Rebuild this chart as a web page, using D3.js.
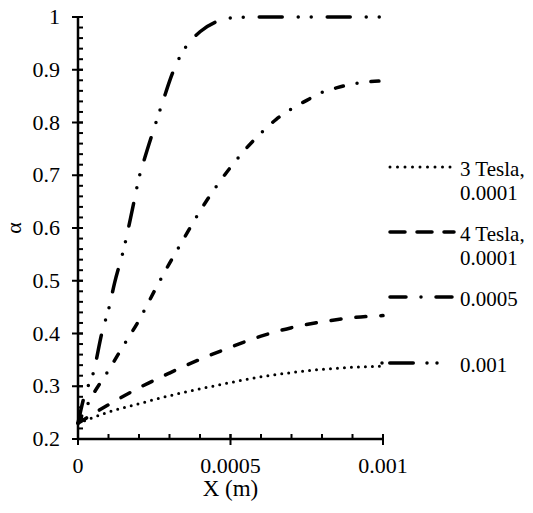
<!DOCTYPE html>
<html><head><meta charset="utf-8">
<script src="https://cdn.jsdelivr.net/npm/d3@7"></script>
<style>
html,body{margin:0;padding:0;background:#fff;}
</style></head>
<body><svg id="c" width="533" height="513"></svg>
<script>
// ---- data (X in metres, alpha) ----
const seriesNames = ["3 Tesla,\n0.0001", "4 Tesla,\n0.0001", "0.0005", "0.001"];
const xTesla3 = [0,0.0001,0.0002,0.0003,0.0004,0.0005,0.0006,0.0007,0.0008,0.0009,0.001];
const yTesla3 = [0.23,0.251,0.267,0.282,0.295,0.307,0.318,0.326,0.332,0.336,0.338];
const xTesla4 = [0,0.0001,0.0002,0.0003,0.0004,0.0005,0.0006,0.0007,0.0008,0.0009,0.001];
const yTesla4 = [0.23,0.265,0.297,0.325,0.351,0.374,0.395,0.411,0.422,0.43,0.434];
const x0005 = [0,0.00005,0.0001,0.00015,0.0002,0.00025,0.0003,0.00035,0.0004,0.00045,0.0005,0.00055,0.0006,0.00065,0.0007,0.00075,0.0008,0.00085,0.0009,0.00095,0.001];
const y0005 = [0.23,0.285,0.33,0.378,0.425,0.48,0.533,0.583,0.632,0.676,0.715,0.75,0.78,0.806,0.826,0.842,0.857,0.866,0.873,0.877,0.879];
const x001 = [0,0.00002,0.00005,0.00008,0.0001,0.00012,0.00015,0.00018,0.0002,0.00022,0.00025,0.00028,0.0003,0.00032,0.00035,0.0004,0.00045,0.0005,0.0006,0.0007,0.0008,0.0009,0.001];
const y001 = [0.23,0.28,0.325,0.405,0.445,0.496,0.56,0.64,0.695,0.735,0.79,0.843,0.878,0.908,0.94,0.972,0.99,0.998,1.0,1.0,1.0,1.0,1.0];
const xTicks = [0, 0.0005, 0.001];
const xTickLabels = ["0", "0.0005", "0.001"];
const yTicks = [0.2,0.3,0.4,0.5,0.6,0.7,0.8,0.9,1];
const yTickLabels = ["0.2","0.3","0.4","0.5","0.6","0.7","0.8","0.9","1"];

const FONT = "'Liberation Serif', 'Times New Roman', serif";
const svg = d3.select("#c");
const L = 78, R = 383, T = 17, B = 439;
const x = d3.scaleLinear().domain([0, 0.001]).range([L, R]);
const y = d3.scaleLinear().domain([0.2, 1]).range([B, T]);

// axes
const g = svg.append("g");
const minorX = d3.range(0, 11).map(i => i * 0.0001);
const minorY = d3.range(0, 41).map(i => 0.2 + i * 0.02);
g.selectAll(".mx").data(minorX).join("line")
  .attr("x1", d => x(d)).attr("x2", d => x(d)).attr("y1", B).attr("y2", B - 5)
  .attr("stroke", "#000").attr("stroke-width", 2);
g.selectAll(".my").data(minorY).join("line")
  .attr("x1", L).attr("x2", L + 5).attr("y1", d => y(d)).attr("y2", d => y(d))
  .attr("stroke", "#000").attr("stroke-width", 2);
g.selectAll(".Mx").data(xTicks).join("line")
  .attr("x1", d => x(d)).attr("x2", d => x(d)).attr("y1", B - 5).attr("y2", B + 6)
  .attr("stroke", "#000").attr("stroke-width", 2);
g.selectAll(".My").data(yTicks).join("line")
  .attr("x1", L - 6).attr("x2", L + 5).attr("y1", d => y(d)).attr("y2", d => y(d))
  .attr("stroke", "#000").attr("stroke-width", 2);
g.append("line").attr("x1", L).attr("x2", L).attr("y1", T).attr("y2", B + 1)
  .attr("stroke", "#000").attr("stroke-width", 2.5);
g.append("line").attr("x1", L - 1).attr("x2", R + 1).attr("y1", B).attr("y2", B)
  .attr("stroke", "#000").attr("stroke-width", 2.5);

g.selectAll(".xl").data(xTicks).join("text")
  .attr("x", d => x(d)).attr("y", B + 34).attr("text-anchor", "middle")
  .style("font-family", FONT).style("font-size", "22px").text((d, i) => xTickLabels[i]);
g.selectAll(".yl").data(yTicks).join("text")
  .attr("x", 60).attr("y", d => y(d) + 7).attr("text-anchor", "end")
  .style("font-family", FONT).style("font-size", "22px").text((d, i) => yTickLabels[i]);
svg.append("text").attr("x", (L + R) / 2).attr("y", 496).attr("text-anchor", "middle")
  .style("font-family", FONT).style("font-size", "23px").text("X (m)");
svg.append("text").attr("transform", `translate(21,${(T + B) / 2}) rotate(-90)`)
  .attr("text-anchor", "middle").style("font-family", FONT).style("font-size", "22px").text("α");

// series
const styles = [
  {w: 3, dash: "0 7"},
  {w: 3.5, dash: "10 15"},
  {w: 3.5, dash: "8 14 0 14"},
  {w: 3.5, dash: "23 16 0 13 0 16"}
];
const data = [
  xTesla3.map((v, i) => [v, yTesla3[i]]),
  xTesla4.map((v, i) => [v, yTesla4[i]]),
  x0005.map((v, i) => [v, y0005[i]]),
  x001.map((v, i) => [v, y001[i]])
];
const line = d3.line().x(d => x(d[0])).y(d => y(d[1])).curve(d3.curveMonotoneX);
data.forEach((d, i) => {
  svg.append("path").attr("d", line(d)).attr("fill", "none").attr("stroke", "#000")
    .attr("stroke-width", styles[i].w).attr("stroke-linecap", "round")
    .attr("stroke-dasharray", styles[i].dash);
});

// legend
const legY = [167, 232, 297, 363];
const legLines = [
  {x1: 390, x2: 451, dash: "0 7.5", w: 3},
  {x1: 390, x2: 454, dash: "15 12", w: 3.5},
  {x1: 390, x2: 452, dash: "16 15 0 15", w: 3.5},
  {x1: 382, x2: 438, dash: "0 7.75 23.5 13.75 0 10 0 100", w: 3.5}
];
legLines.forEach((l, i) => {
  svg.append("line").attr("x1", l.x1).attr("x2", l.x2).attr("y1", legY[i]).attr("y2", legY[i])
    .attr("stroke", "#000").attr("stroke-width", l.w).attr("stroke-linecap", "round")
    .attr("stroke-dasharray", l.dash);
});
seriesNames.forEach((s, i) => {
  const t = svg.append("text").attr("x", 460).attr("y", legY[i] + 9)
    .style("font-family", FONT).style("font-size", "21px");
  s.split("\n").forEach((ln, j) => {
    t.append("tspan").attr("x", 460).attr("dy", j === 0 ? 0 : 24).text(ln);
  });
});
</script></body></html>
